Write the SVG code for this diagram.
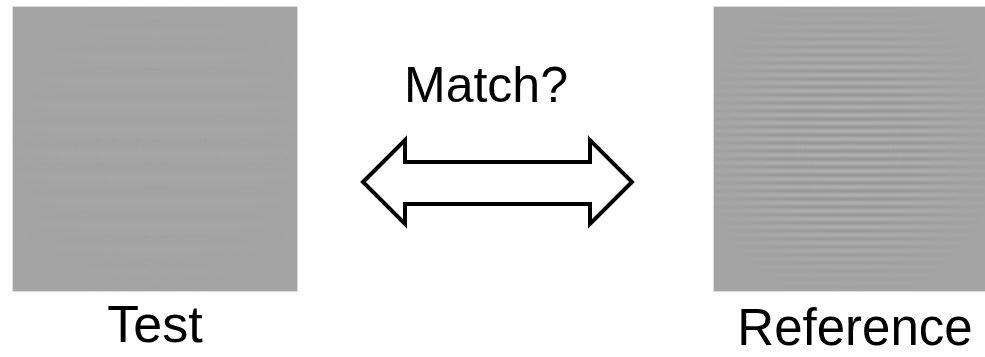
<svg xmlns="http://www.w3.org/2000/svg" width="985" height="357" viewBox="0 0 985 357">
  <style>
    .lbl { font-family: "Liberation Sans", Arial, sans-serif; fill: #000; }
    .arrow { fill: #fff; stroke: #000; stroke-width: 4; stroke-linejoin: miter; }
  </style>
  <defs>
    <linearGradient id="sinFine" x1="0" y1="0" x2="0" y2="1">
      <stop offset="0" stop-color="#b4b4b4"/>
      <stop offset="0.25" stop-color="#a4a4a4"/>
      <stop offset="0.5" stop-color="#939393"/>
      <stop offset="0.75" stop-color="#a4a4a4"/>
      <stop offset="1" stop-color="#b4b4b4"/>
    </linearGradient>
    <pattern id="gratFine" x="0" y="3" width="20" height="8" patternUnits="userSpaceOnUse">
      <rect width="20" height="8" fill="url(#sinFine)"/>
    </pattern>
    <linearGradient id="sinCoarse" x1="0" y1="0" x2="0" y2="1">
      <stop offset="0" stop-color="#a7a7a7"/>
      <stop offset="0.25" stop-color="#a4a4a4"/>
      <stop offset="0.5" stop-color="#a1a1a1"/>
      <stop offset="0.75" stop-color="#a4a4a4"/>
      <stop offset="1" stop-color="#a7a7a7"/>
    </linearGradient>
    <pattern id="gratCoarse" x="0" y="10" width="20" height="24" patternUnits="userSpaceOnUse">
      <rect width="20" height="24" fill="url(#sinCoarse)"/>
    </pattern>
    <radialGradient id="env" cx="0.5" cy="0.5" r="0.55">
      <stop offset="0" stop-color="#fff" stop-opacity="1"/>
      <stop offset="0.5" stop-color="#fff" stop-opacity="0.8"/>
      <stop offset="1" stop-color="#fff" stop-opacity="0"/>
    </radialGradient>
    <mask id="envRight" maskContentUnits="userSpaceOnUse">
      <rect x="713" y="7" width="272" height="284" fill="url(#env)"/>
    </mask>
    <mask id="envLeft" maskContentUnits="userSpaceOnUse">
      <rect x="13" y="7" width="284" height="284" fill="url(#env)"/>
    </mask>
  </defs>

  <g id="test">
    <rect x="12.5" y="6.5" width="285" height="285" fill="#a4a4a4" stroke="#dcdcdc" stroke-width="1"/>
    <rect x="13" y="7" width="284" height="284" fill="url(#gratCoarse)" mask="url(#envLeft)"/>
    <text class="lbl" x="155" y="342" font-size="52" text-anchor="middle">Test</text>
  </g>

  <g id="reference">
    <rect x="713.5" y="6.5" width="272" height="285" fill="#a4a4a4" stroke="#dcdcdc" stroke-width="1"/>
    <rect x="714" y="7" width="271" height="284" fill="url(#gratFine)" mask="url(#envRight)"/>
    <text class="lbl" x="855" y="345" font-size="51" text-anchor="middle">Reference</text>
  </g>

  <g id="match">
    <text class="lbl" x="486" y="102" font-size="50" text-anchor="middle">Match?</text>
  </g>

  <g id="connectors">
    <polygon class="arrow" points="363,182 405,140 405,162 590,162 590,140 632,182 590,224 590,204 405,204 405,224"/>
  </g>
</svg>
